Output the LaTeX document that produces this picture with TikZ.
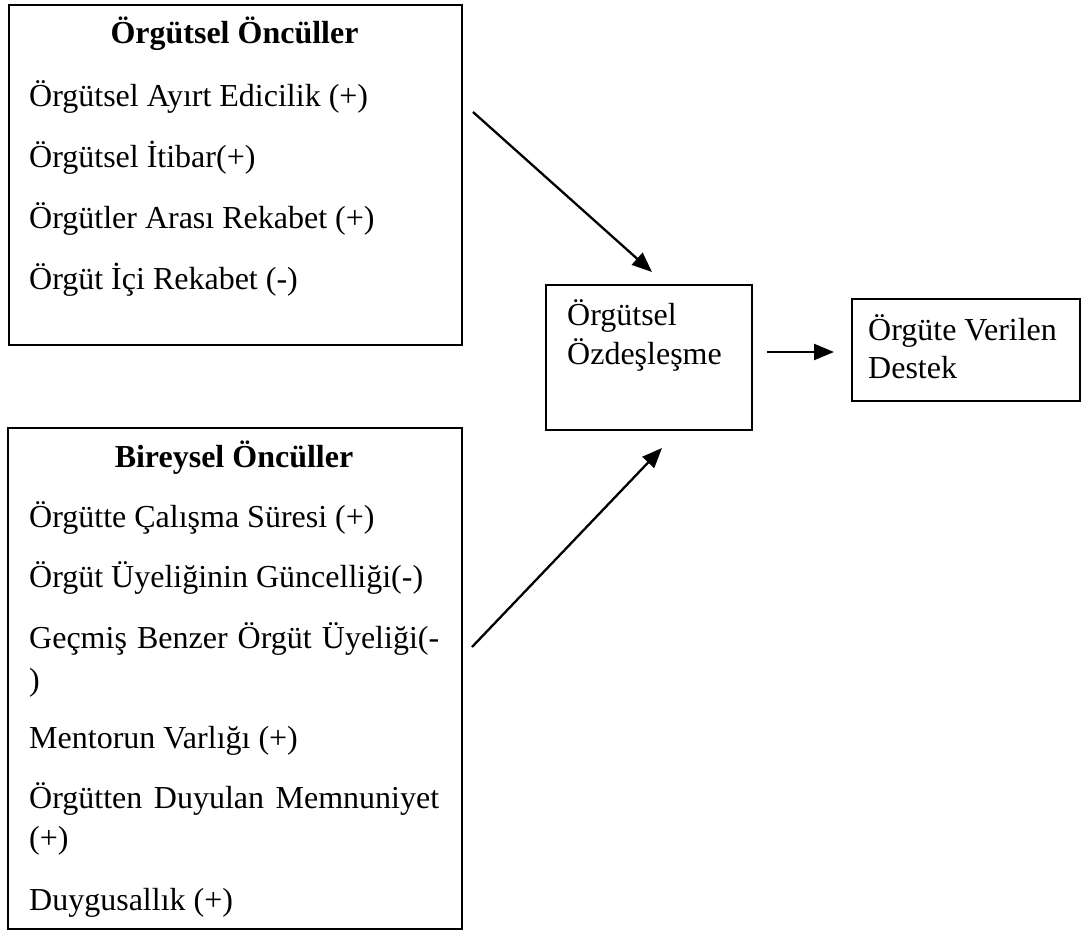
\documentclass[tikz,border=0pt]{standalone}
\usepackage{fontspec}
\setmainfont{Liberation Serif}
\usetikzlibrary{arrows.meta}
\begin{document}
\begin{tikzpicture}[x=1pt,y=-1pt,
  box/.style={draw, line width=2.3pt, inner sep=0pt, anchor=north west},
  txt/.style={inner sep=0pt, anchor=base west, font=\fontsize{32}{38}\selectfont},
  ttl/.style={inner sep=0pt, anchor=base, font=\fontsize{32}{38}\selectfont\bfseries},
  arr/.style={line width=2.3pt, -{Triangle[length=20pt,width=16pt]}}]
\useasboundingbox (0,0) rectangle (1081,934);
% boxes
\node[box, minimum width=453pt, minimum height=340pt] (org) at (8,4) {};
\node[box, minimum width=454pt, minimum height=501pt] (bir) at (7,427) {};
\node[box, minimum width=206pt, minimum height=145pt] (ozd) at (545,284) {};
\node[box, minimum width=228pt, minimum height=102pt] (des) at (851,298) {};
% texts of top box
\node[ttl] (t1) at (234.5,44) {Örgütsel Öncüller};
\node[txt] (t1a) at (29,106) {Örgütsel Ayırt Edicilik (+)};
\node[txt] (t1b) at (29,167) {Örgütsel İtibar(+)};
\node[txt] (t1c) at (29,228) {Örgütler Arası Rekabet (+)};
\node[txt] (t1d) at (29,289) {Örgüt İçi Rekabet (-)};
% texts of bottom box
\node[ttl] (t2) at (234,467) {Bireysel Öncüller};
\node[txt] (t2a) at (29,527) {Örgütte Çalışma Süresi (+)};
\node[txt] (t2b) at (29,587) {Örgüt Üyeliğinin Güncelliği(-)};
\node[txt] (t2c) at (29,648) {\makebox[410pt][s]{Geçmiş Benzer Örgüt Üyeliği(-}};
\node[txt] (t2d) at (29,690) {)};
\node[txt] (t2e) at (29,748) {Mentorun Varlığı (+)};
\node[txt] (t2f) at (29,808) {\makebox[410pt][s]{Örgütten Duyulan Memnuniyet}};
\node[txt] (t2g) at (29,848) {(+)};
\node[txt] (t2h) at (29,910) {Duygusallık (+)};
% middle and right texts
\node[txt] (t3a) at (567,325) {Örgütsel};
\node[txt] (t3b) at (567,364) {Özdeşleşme};
\node[txt] (t4a) at (868,340) {Örgüte Verilen};
\node[txt] (t4b) at (868,378) {Destek};
% arrows
\coordinate (a1s) at (473,112);
\coordinate (a1e) at (652,272);
\coordinate (a2s) at (472,647);
\coordinate (a2e) at (662,448);
\coordinate (a3s) at (767,352);
\coordinate (a3e) at (834,352);
\draw[arr] (a1s) -- (a1e);
\draw[arr] (a2s) -- (a2e);
\draw[arr] (a3s) -- (a3e);
\end{tikzpicture}
\end{document}
